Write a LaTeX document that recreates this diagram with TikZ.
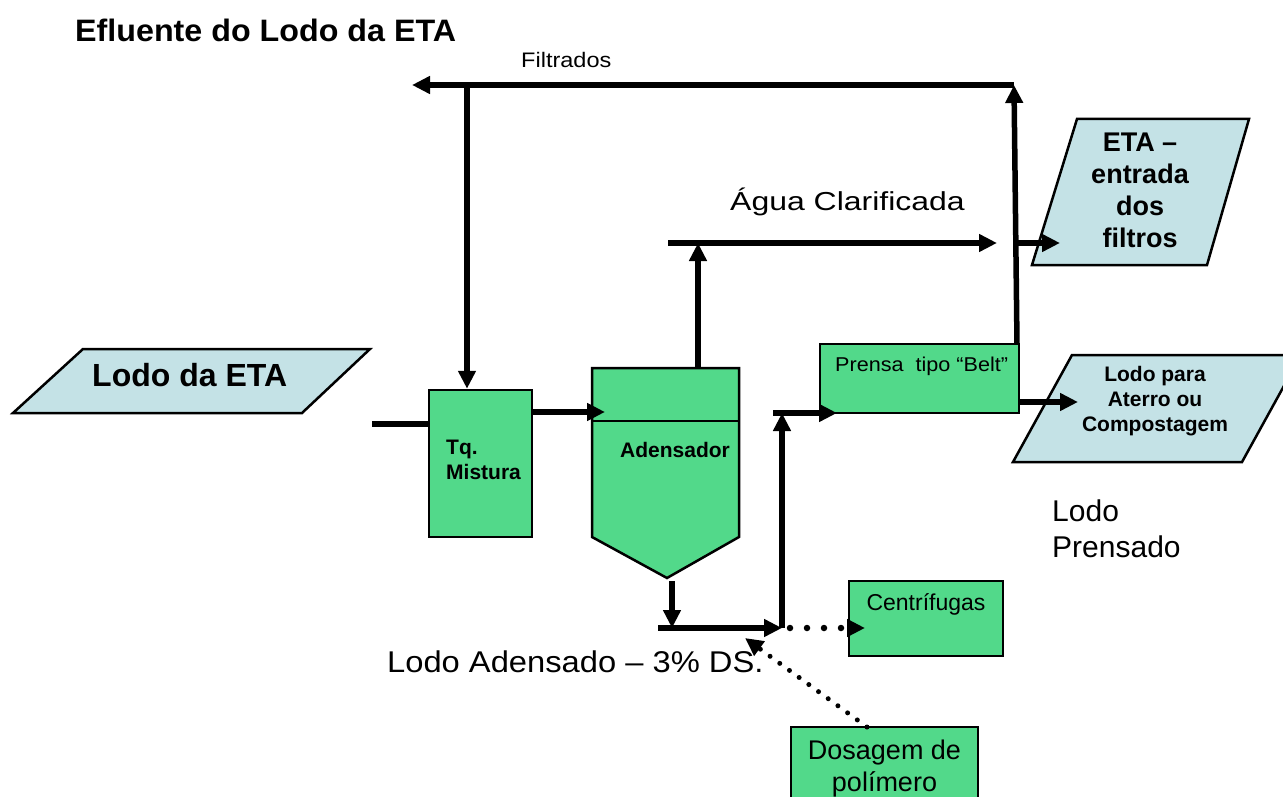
\documentclass[tikz,border=0pt]{standalone}
\usepackage{fontspec}
\setmainfont{Liberation Sans}
\usetikzlibrary{arrows.meta}
\definecolor{boxgreen}{RGB}{82,217,138}
\definecolor{paleblue}{RGB}{196,226,230}
\newcommand\fs[2]{\fontsize{#1}{#2}\selectfont}
\begin{document}
\begin{tikzpicture}[x=1pt,y=-1pt,
  flow/.style={line width=5.5pt,-{Triangle[length=18pt,width=17pt]}},
  pipe/.style={line width=5.5pt},
  dotflow/.style={line width=6.5pt,line cap=round,dash pattern=on 0pt off 17pt,-{Triangle[length=18pt,width=17pt]}},
  dotdiag/.style={line width=5pt,line cap=round,dash pattern=on 0pt off 12pt,-{Triangle[length=18pt,width=17pt]}},
  gbox/.style={draw,line width=2.5pt,fill=boxgreen,inner sep=0pt},
  pgram/.style={draw,line width=2.5pt,fill=paleblue,line join=miter},
  lbl/.style={inner sep=0pt}]
\useasboundingbox (0,0) rectangle (1283,797);
\clip (0,0) rectangle (1283,797);

% parallelograms
\draw[pgram] (83,349) -- (370,349) -- (302,413) -- (13,413) -- cycle;
\draw[pgram] (1077,119) -- (1249,119) -- (1207,265) -- (1032,265) -- cycle;
\draw[pgram] (1072,355) -- (1301,355) -- (1242,462) -- (1013,462) -- cycle;

% boxes
\node[gbox,minimum width=103,minimum height=147] (tq) at (480.5,463.5) {};
\coordinate (adNW) at (592,368);
\coordinate (adNE) at (739,368);
\coordinate (adSE) at (739,537);
\coordinate (adTip) at (667,578);
\coordinate (adSW) at (592,537);
\draw[line width=2.5pt,fill=boxgreen,line join=miter] (adNW) -- (adNE) -- (adSE) -- (adTip) -- (adSW) -- cycle;
\draw[line width=2.5pt] (592,421) -- (739,421);
\node[gbox,minimum width=199,minimum height=69] (prensa) at (919.5,378.5) {};
\node[gbox,minimum width=154,minimum height=75] (centr) at (926,618.5) {};
\node[gbox,minimum width=187,minimum height=100] (dos) at (884.5,777) {};

% texts
\node[lbl,anchor=base west,font=\fs{31}{36}\bfseries] (title) at (75,42) {\scalebox{1.04}[1]{Efluente do Lodo da ETA}};
\node[lbl,anchor=base west,font=\fs{21}{25}] (filt) at (521,68) {\scalebox{1.12}[1]{Filtrados}};
\node[lbl,anchor=base west,font=\fs{26}{30}] (agua) at (730,210) {\scalebox{1.23}[1]{Água Clarificada}};
\node[lbl,anchor=base west,font=\fs{32}{38}\bfseries] (lodoeta) at (92,386) {Lodo da ETA};
\node[lbl,align=center,font=\fs{27}{32}\bfseries] (eta) at (1140,190) {ETA –\\entrada\\dos\\filtros};
\node[lbl,align=center,font=\fs{21}{25}\bfseries] (aterro) at (1155,401.5) {Lodo para\\Aterro ou\\Compostagem};
\node[lbl,anchor=west,align=left,font=\fs{21}{25}\bfseries] (tqlbl) at (446,460) {Tq.\\Mistura};
\node[lbl,anchor=base west,font=\fs{21}{25}\bfseries] (adlbl) at (620,457) {Adensador};
\node[lbl,anchor=base west,font=\fs{20}{24}] (prlbl) at (835,371) {\scalebox{1.08}[1]{Prensa\ \ tipo “Belt”}};
\node[lbl,anchor=west,align=left,font=\fs{30}{36}] (lp) at (1052,529) {Lodo\\Prensado};
\node[lbl,anchor=base,font=\fs{23}{27}] (centrlbl) at (926,610) {Centrífugas};
\node[lbl,anchor=base west,font=\fs{30}{36}] (lad) at (387,672) {\scalebox{1.09}[1]{Lodo Adensado – 3\% DS.}};
\node[lbl,align=center,font=\fs{27}{32}] (doslbl) at (884.5,769) {Dosagem de\\polímero};

% connector coordinates
\coordinate (pTop) at (1017,344);
\coordinate (fR) at (1014,85);
\coordinate (fL) at (412,85);
\coordinate (fJ) at (467,85);
\coordinate (inL) at (372,424);
\coordinate (adIn) at (605,412);
\coordinate (adTop) at (698,368);
\coordinate (aJ) at (698,243);
\coordinate (aL) at (668,243);
\coordinate (aR) at (997,243);
\coordinate (etaS) at (1016,243);
\coordinate (etaE) at (1060,243);
\coordinate (bTop) at (672,581);
\coordinate (bDown) at (672,628);
\coordinate (bL) at (658,628);
\coordinate (bR) at (782,628);
\coordinate (bUp) at (782,413);
\coordinate (pL) at (773,413);
\coordinate (pIn) at (837,413);
\coordinate (atS) at (1019,402);
\coordinate (atE) at (1078,402);
\coordinate (cS) at (790,628);
\coordinate (cE) at (865,628);
\coordinate (dS) at (867,727);
\coordinate (dE) at (745,638);

% connectors
\draw[flow] (pTop) -- (fR);
\draw[flow] (fR) -- (fL);
\draw[flow] (fJ) -- (fJ |- tq.north);
\draw[pipe] (inL) -- (inL -| tq.west);
\draw[flow] (adIn -| tq.east) -- (adIn);
\draw[flow] (adTop) -- (aJ);
\draw[flow] (aL) -- (aR);
\draw[flow] (etaS) -- (etaE);
\draw[flow] (bTop) -- (bDown);
\draw[flow] (bL) -- (bR);
\draw[flow] (bR) -- (bUp);
\draw[flow] (pL) -- (pIn);
\draw[flow] (atS) -- (atE);
\draw[dotflow] (cS) -- (cE);
\draw[dotdiag] (dS) -- (dE);
\end{tikzpicture}
\end{document}
